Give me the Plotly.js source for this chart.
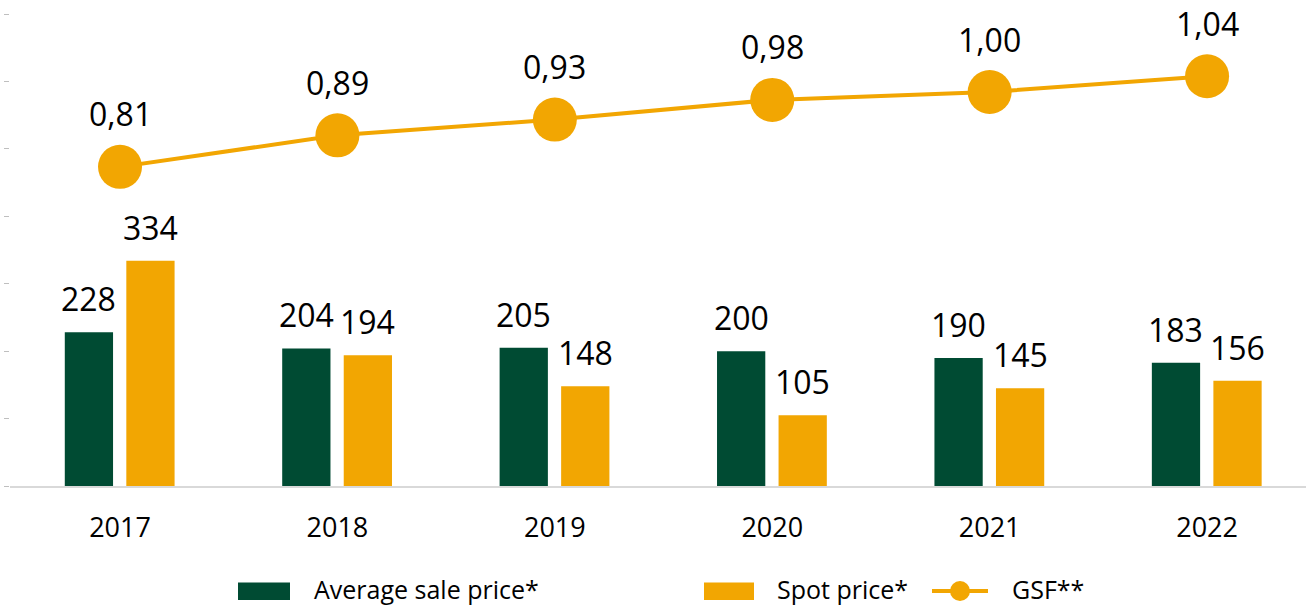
<!DOCTYPE html>
<html>
<head>
<meta charset="utf-8">
<script src="https://cdn.plot.ly/plotly-3.0.1.min.js"></script>
<style>html,body{margin:0;padding:0;background:#fff;overflow:hidden}</style>
</head>
<body>
<div id="chart" style="width:1306px;height:607px"></div>
<script>
const years = [2017, 2018, 2019, 2020, 2021, 2022];
const avgSalePrice = [228, 204, 205, 200, 190, 183];
const spotPrice = [334, 194, 148, 105, 145, 156];
const gsf = [0.81, 0.89, 0.93, 0.98, 1.00, 1.04];
const legendLabels = ['Average sale price*', 'Spot price*', 'GSF**'];

const GREEN = '#004b33';
const ORANGE = '#f2a602';
const FONT = 'Open Sans, Noto Sans, sans-serif';

const BAR_W = 0.222;
const OFF_G = -0.254;
const OFF_O = 0.029;

const fmt = v => v.toFixed(2).replace('.', ',');

const traces = [
  {type: 'bar', x: years, y: avgSalePrice, name: legendLabels[0], width: BAR_W, offset: OFF_G,
   marker: {color: GREEN, line: {width: 0}}, hoverinfo: 'y', showlegend: false},
  {type: 'bar', x: years, y: spotPrice, name: legendLabels[1], width: BAR_W, offset: OFF_O,
   marker: {color: ORANGE, line: {width: 0}}, hoverinfo: 'y', showlegend: false},
  {type: 'scatter', mode: 'lines+markers', x: years, y: gsf, yaxis: 'y2', name: legendLabels[2],
   line: {color: ORANGE, width: 4}, marker: {color: ORANGE, size: 44}, cliponaxis: false, showlegend: false}
];

const annotations = [];
years.forEach((yr, i) => {
  annotations.push({x: yr + OFF_G + BAR_W / 2, y: avgSalePrice[i], xref: 'x', yref: 'y', text: String(avgSalePrice[i]),
    showarrow: false, yanchor: 'bottom', yshift: 10, font: {family: FONT, size: 32, color: '#000'}});
  annotations.push({x: yr + OFF_O + BAR_W / 2, y: spotPrice[i], xref: 'x', yref: 'y', text: String(spotPrice[i]),
    showarrow: false, yanchor: 'bottom', yshift: 10, font: {family: FONT, size: 32, color: '#000'}});
  annotations.push({x: yr, y: gsf[i], xref: 'x', yref: 'y2', text: fmt(gsf[i]),
    showarrow: false, yanchor: 'middle', yshift: 53, font: {family: FONT, size: 32, color: '#000'}});
});

// legend (paper coords derived from pixel layout of plot area)
const PL = 10, PW = 1296, PB = 486, PH = 486;
const px = p => (p - PL) / PW;
const py = p => (PB - p) / PH;
const shapes = [
  {type: 'rect', xref: 'paper', yref: 'paper', x0: px(238), x1: px(290), y0: py(600), y1: py(582.5), fillcolor: GREEN, line: {width: 0}},
  {type: 'rect', xref: 'paper', yref: 'paper', x0: px(704), x1: px(754), y0: py(600), y1: py(582.5), fillcolor: ORANGE, line: {width: 0}},
  {type: 'line', xref: 'paper', yref: 'paper', x0: px(932), x1: px(988), y0: py(591), y1: py(591), line: {color: ORANGE, width: 4}},
  {type: 'circle', xref: 'paper', yref: 'paper', x0: px(950), x1: px(970), y0: py(601), y1: py(581), fillcolor: ORANGE, line: {width: 0}}
];
const legX = [311.5, 775, 1010];
legendLabels.forEach((lab, i) => {
  annotations.push({xref: 'paper', yref: 'paper', x: px(legX[i]), y: py(589), text: lab, showarrow: false,
    xanchor: 'left', yanchor: 'middle', font: {family: FONT, size: 25, color: '#000'}});
});

const layout = {
  width: 1306, height: 607,
  margin: {l: PL, r: 0, t: 0, b: 607 - PB},
  paper_bgcolor: '#fff', plot_bgcolor: '#fff',
  font: {family: FONT, color: '#000'},
  showlegend: false,
  xaxis: {range: [2016.494, 2022.455], tickvals: years, ticktext: years.map(String), showgrid: false, zeroline: false,
    showline: true, linecolor: '#d9d9d9', linewidth: 2, ticks: '', ticklabelstandoff: 17,
    tickfont: {family: FONT, size: 27, color: '#000'}, fixedrange: true},
  yaxis: {range: [0, 721], showgrid: false, zeroline: false, showticklabels: false, ticks: 'outside', ticklen: 5,
    tickcolor: '#bfbfbf', tickwidth: 1, tick0: 0, dtick: 100, showline: false, fixedrange: true},
  yaxis2: {range: [0, 1.2335], overlaying: 'y', visible: false, fixedrange: true},
  annotations: annotations,
  shapes: shapes
};

Plotly.newPlot('chart', traces, layout, {displayModeBar: false, staticPlot: true});
</script>
</body>
</html>
